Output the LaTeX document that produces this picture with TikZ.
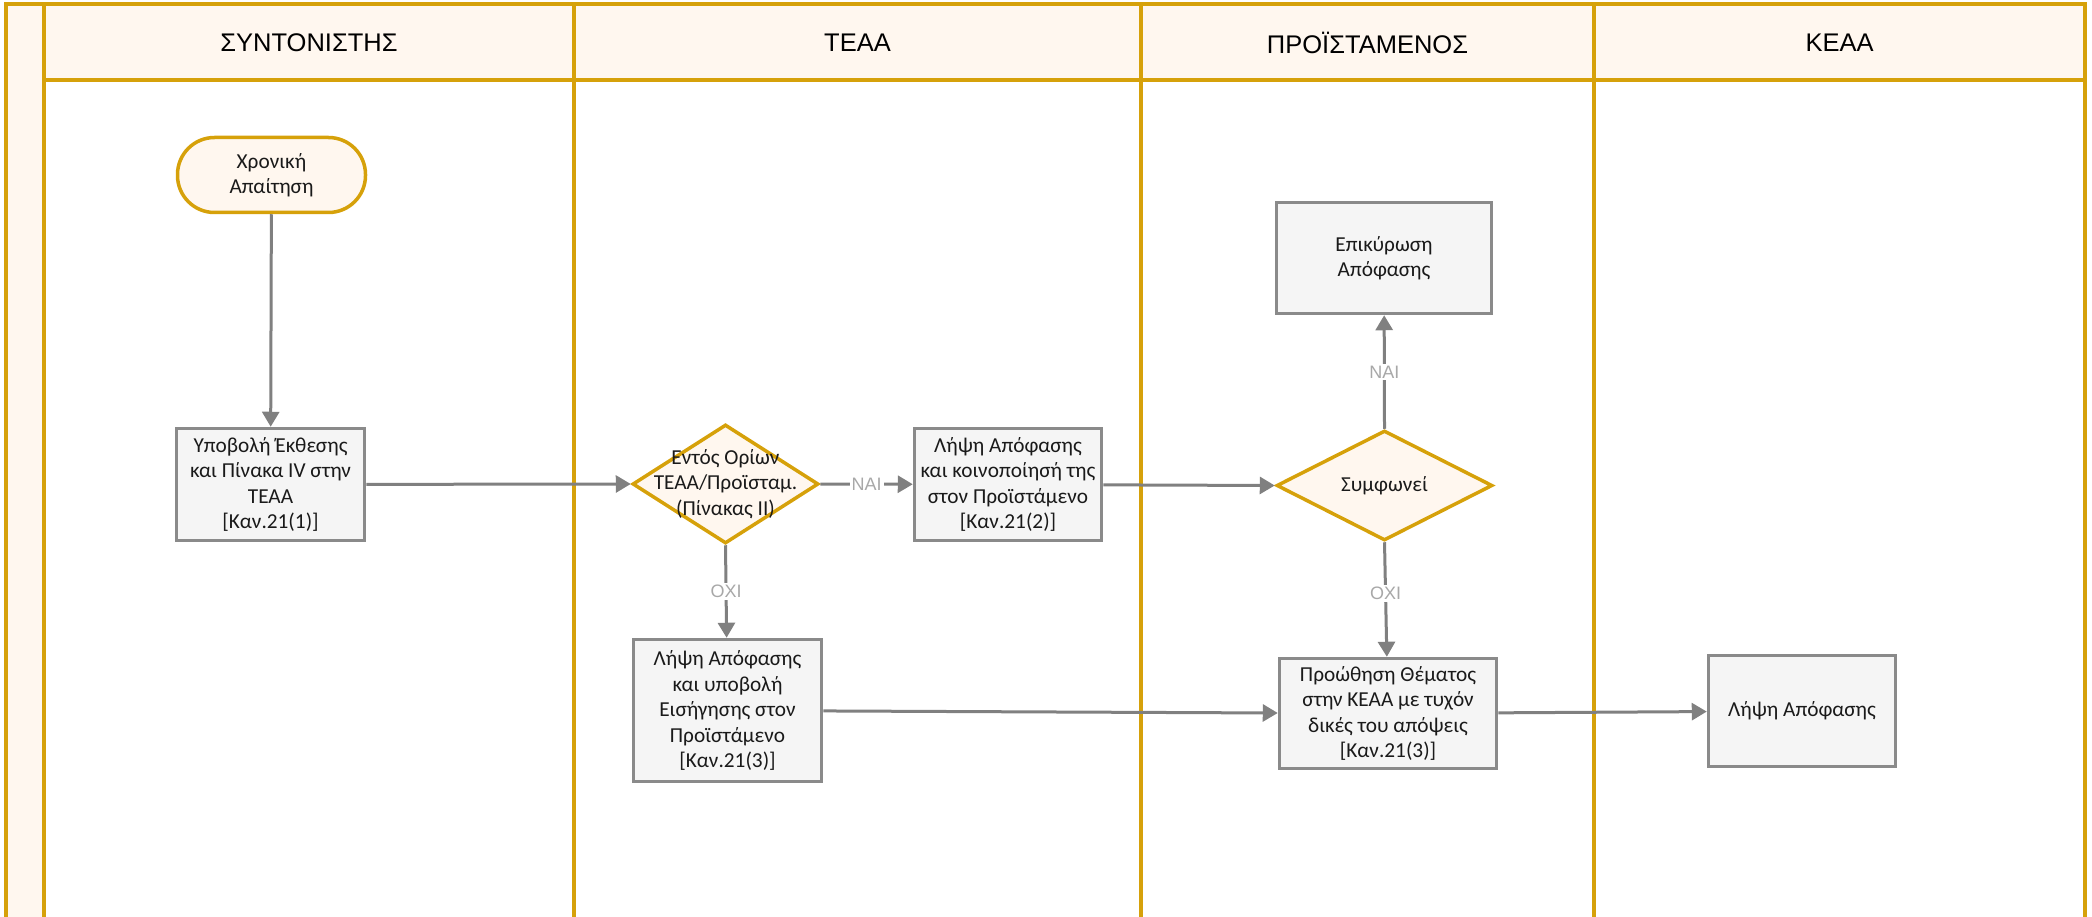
\documentclass[tikz,border=0pt]{standalone}
\usepackage{fontspec}
\setmainfont{Carlito}
\newfontfamily\hdrfont{Liberation Sans}
\usetikzlibrary{shapes.geometric,arrows.meta}
\definecolor{gold}{HTML}{D6A10A}
\definecolor{cream}{HTML}{FFF7EF}
\definecolor{boxgray}{HTML}{8A8A8A}
\definecolor{boxfill}{HTML}{F5F5F5}
\definecolor{linegray}{HTML}{808080}
\definecolor{lblgray}{HTML}{A8A8A8}
\definecolor{txt}{HTML}{1A1A1A}
\begin{document}
\begin{tikzpicture}[x=1pt,y=-1pt,
  lane/.style={draw=gold,line width=3.5pt},
  hdr/.style={font=\hdrfont\fontsize{25.5}{30}\selectfont,text=black},
  proc/.style={draw=boxgray,fill=boxfill,line width=3.5pt,inner sep=0pt,align=center,text=txt,font=\fontsize{21.3}{25.5}\selectfont},
  term/.style={draw=gold,fill=cream,line width=3.5pt,rounded corners=37pt,inner sep=0pt,align=center,text=txt,font=\fontsize{21.3}{25.5}\selectfont},
  decision/.style={diamond,draw=gold,fill=cream,line width=3.5pt,inner sep=0pt},
  dtext/.style={align=center,text=txt,font=\fontsize{21.3}{25.5}\selectfont,inner sep=0pt},
  conn/.style={draw=linegray,line width=3pt,-{Triangle[length=15pt,width=17pt]}},
  lbl/.style={fill=white,text=lblgray,inner sep=2pt,font=\hdrfont\fontsize{18}{20}\selectfont}]
\useasboundingbox (0,0) rectangle (2092,917);
% pool
\fill[cream] (6,4) rectangle (44,917);
\fill[cream] (44,4) rectangle (2085,80);
\draw[lane] (6,917) -- (6,4) -- (2085,4) -- (2085,917);
\draw[lane] (44,4) -- (44,917);
\draw[lane] (44,80) -- (2085,80);
\draw[lane] (574,4) -- (574,917);
\draw[lane] (1141,4) -- (1141,917);
\draw[lane] (1594,4) -- (1594,917);
\node[hdr] (h1) at (309,43) {ΣΥΝΤΟΝΙΣΤΗΣ};
\node[hdr] (h2) at (857.5,43) {ΤΕΑΑ};
\node[hdr] (h3) at (1367.5,43) {ΠΡΟΪΣΤΑΜΕΝΟΣ};
\node[hdr] (h4) at (1839.5,43) {ΚΕΑΑ};
% nodes
\node[term,minimum width=188pt,minimum height=75pt] (start) at (271.5,175) {Χρονική\\Απαίτηση};
\node[proc,minimum width=188pt,minimum height=112pt] (b1) at (270.5,484.5) {Υποβολή Έκθεσης\\και Πίνακα IV στην\\ΤΕΑΑ\\{[}Καν.21(1){]}};
\node[decision,minimum width=186pt,minimum height=119pt] (d1) at (725.5,484) {};
\node[dtext] (d1t) at (725.5,484) {Εντός Ορίων\\ΤΕΑΑ/Προϊσταμ.\\(Πίνακας ΙΙ)};
\node[proc,minimum width=187pt,minimum height=112pt] (b2) at (1008,484.5) {Λήψη Απόφασης\\και κοινοποίησή της\\στον Προϊστάμενο\\{[}Καν.21(2){]}};
\node[proc,minimum width=188pt,minimum height=142pt] (b3) at (727.5,710.5) {Λήψη Απόφασης\\και υποβολή\\Εισήγησης στον\\Προϊστάμενο\\{[}Καν.21(3){]}};
\node[proc,minimum width=215pt,minimum height=111pt] (epi) at (1384,258) {Επικύρωση\\Απόφασης};
\node[decision,minimum width=216pt,minimum height=110pt] (d2) at (1384.5,485.5) {};
\node[dtext] (d2t) at (1384.5,485.5) {Συμφωνεί};
\node[proc,minimum width=217pt,minimum height=110pt] (pro) at (1388,713.5) {Προώθηση Θέματος\\στην ΚΕΑΑ με τυχόν\\δικές του απόψεις\\{[}Καν.21(3){]}};
\node[proc,minimum width=187pt,minimum height=111pt] (keaa) at (1802,711) {Λήψη Απόφασης};
% connectors
\draw[conn] (start) -- (b1);
\draw[conn] (b1) -- (d1.west);
\draw[conn] (d1.east) -- node[lbl] (l1) {ΝΑΙ} (b2);
\draw[conn] (d1.south) -- node[lbl] (l2) {ΟΧΙ} (b3);
\draw[conn] (b2) -- (d2.west);
\draw[conn] (d2.north) -- node[lbl] (l3) {ΝΑΙ} (epi);
\draw[conn] (d2.south) -- node[lbl,pos=0.45] (l4) {ΟΧΙ} (pro);
\draw[conn] (b3) -- (pro);
\draw[conn] (pro) -- (keaa);
\end{tikzpicture}
\end{document}
